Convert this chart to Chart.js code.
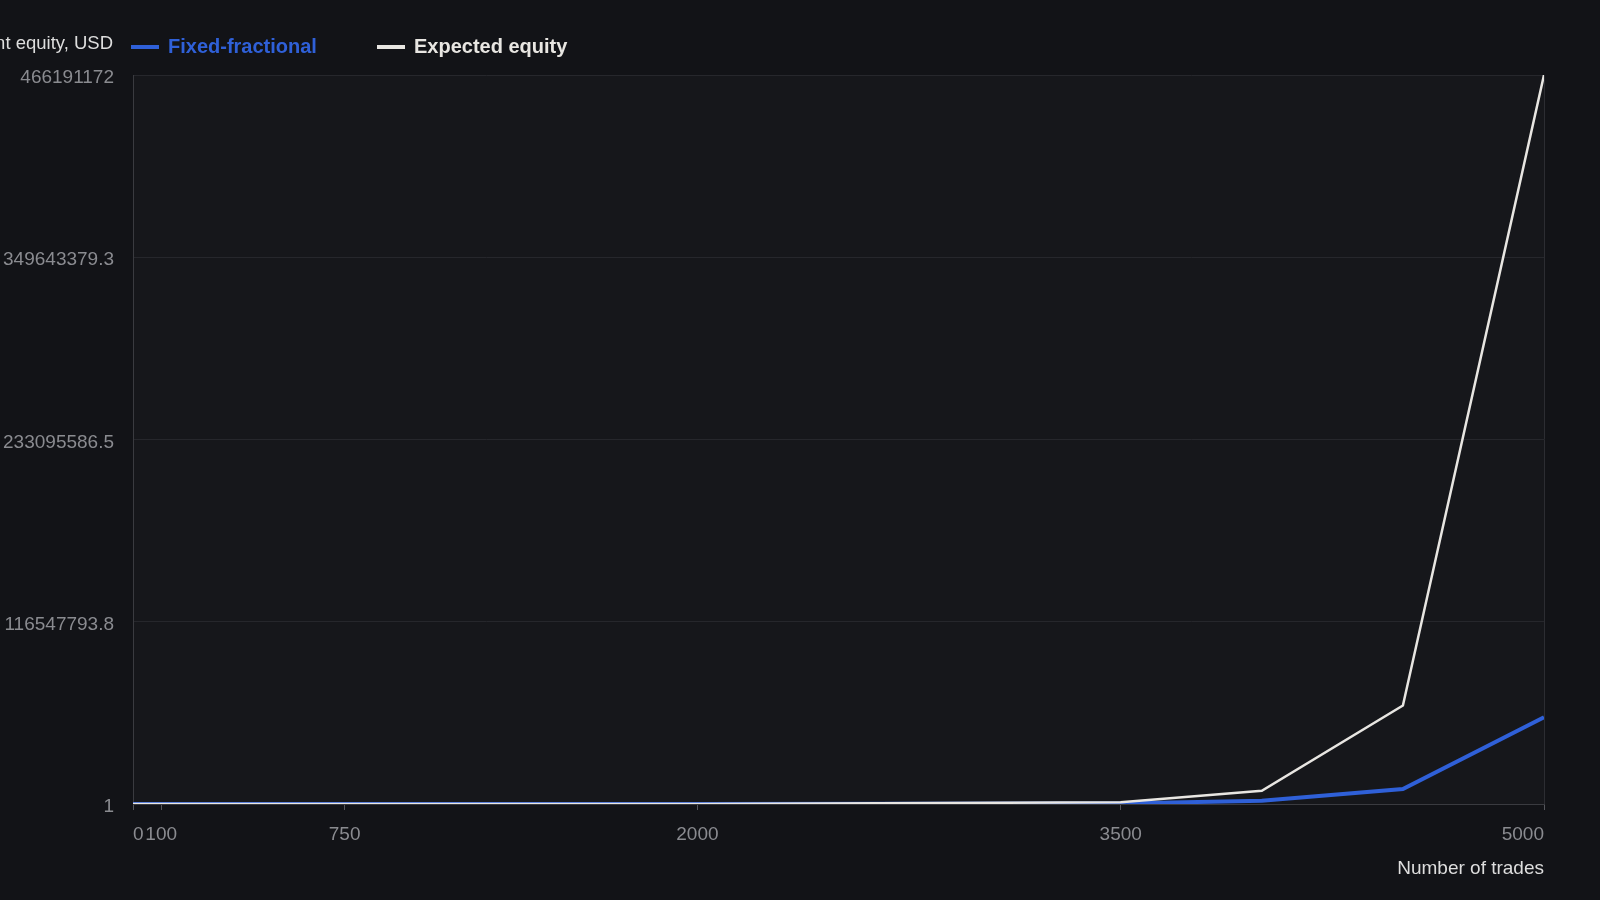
<!DOCTYPE html>
<html>
<head>
<meta charset="utf-8">
<title>Equity growth</title>
<script src="https://cdn.jsdelivr.net/npm/chart.js@4/dist/chart.umd.min.js"></script>
<style>
  html, body { margin: 0; padding: 0; background: #121317; }
  #wrap { width: 1600px; height: 900px; }
</style>
</head>
<body>
<div id="wrap"><canvas id="equity-chart" width="1600" height="900"></canvas></div>
<script>
// data
const trades = [0, 100, 750, 2000, 3500, 4000, 4500, 5000];
const fixedFractional = [1, 1.43, 14.5, 1250, 300000, 2100000, 9600000, 55500000];
const expectedEquity = [1, 1.49, 19.9, 2940, 1100000, 8500000, 63000000, 466191172];
const seriesNames = ['Fixed-fractional', 'Expected equity'];
const seriesColors = ['#2f60d8', '#e8e6e2'];

const xTicks = [0, 100, 750, 2000, 3500, 5000];
const yTicks = [1, 116547793.75, 233095586.5, 349643379.25, 466191172];
const yTitle = 'Account equity, USD';
const xTitle = 'Number of trades';

const FONT = "'Liberation Sans', Arial, sans-serif";

function toPoints(xs, ys) {
  return xs.map(function (x, i) { return { x: x, y: ys[i] }; });
}

// fondo del area del grafico
const plotBackground = {
  id: 'plotBackground',
  beforeDraw(chart) {
    const a = chart.chartArea;
    const ctx = chart.ctx;
    ctx.save();
    ctx.fillStyle = '#16171b';
    ctx.fillRect(a.left, a.top, a.right - a.left, a.bottom - a.top);
    ctx.restore();
  }
};

// y title + legend drawn in one line above the plot
const topLine = {
  id: 'topLine',
  afterDraw(chart) {
    const ctx = chart.ctx;
    ctx.save();
    ctx.textBaseline = 'middle';
    ctx.textAlign = 'right';
    ctx.font = '18.5px ' + FONT;
    ctx.fillStyle = '#dedede';
    ctx.fillText(yTitle, 113, 44);

    const items = [{ box: 131, text: 168 }, { box: 377, text: 414 }];
    ctx.textAlign = 'left';
    ctx.font = 'bold 20px ' + FONT;
    items.forEach(function (it, i) {
      ctx.fillStyle = seriesColors[i];
      ctx.fillRect(it.box, 45, 28, 4);
      ctx.fillText(seriesNames[i], it.text, 47);
    });
    ctx.restore();
  }
};

const equityChart = new Chart(document.getElementById('equity-chart'), {
  type: 'line',
  data: {
    datasets: [{
      label: seriesNames[0],
      data: toPoints(trades, fixedFractional),
      borderColor: seriesColors[0],
      backgroundColor: seriesColors[0],
      borderWidth: 4,
      pointRadius: 0,
      tension: 0,
      order: 1
    }, {
      label: seriesNames[1],
      data: toPoints(trades, expectedEquity),
      borderColor: seriesColors[1],
      backgroundColor: seriesColors[1],
      borderWidth: 2.5,
      pointRadius: 0,
      tension: 0,
      order: 0
    }]
  },
  options: {
    responsive: false,
    animation: false,
    layout: { padding: { top: 75, right: 56, left: 0, bottom: 0 } },
    plugins: {
      legend: { display: false },
      tooltip: { enabled: false }
    },
    scales: {
      x: {
        type: 'linear',
        min: 0,
        max: 5000,
        afterBuildTicks: function (s) { s.ticks = xTicks.map(function (v) { return { value: v }; }); },
        afterFit: function (s) { s.height = 96; },
        ticks: {
          align: 'inner',
          autoSkip: false,
          maxRotation: 0,
          color: '#8a8b90',
          padding: 13,
          font: { family: FONT, size: 19 },
          callback: function (v) { return String(v); }
        },
        grid: {
          color: function (c) { return c.index === xTicks.length - 1 ? '#2c2d32' : 'rgba(0,0,0,0)'; },
          tickColor: '#55565c',
          tickLength: 6
        },
        border: { color: '#3a3b40' },
        title: {
          display: true,
          text: xTitle,
          align: 'end',
          color: '#dedede',
          font: { family: FONT, size: 19 },
          padding: { top: 4, bottom: 20 }
        }
      },
      y: {
        min: 1,
        max: 466191172,
        afterBuildTicks: function (s) { s.ticks = yTicks.map(function (v) { return { value: v }; }); },
        afterFit: function (s) { s.width = 133; },
        ticks: {
          color: '#8a8b90',
          padding: 19,
          labelOffset: 3,
          font: { family: FONT, size: 19 },
          callback: function (v) { return Number.isInteger(v) ? String(v) : v.toFixed(1); }
        },
        grid: { color: '#26272c', drawTicks: false },
        border: { color: '#3a3b40' }
      }
    }
  },
  plugins: [plotBackground, topLine]
});
</script>
</body>
</html>
